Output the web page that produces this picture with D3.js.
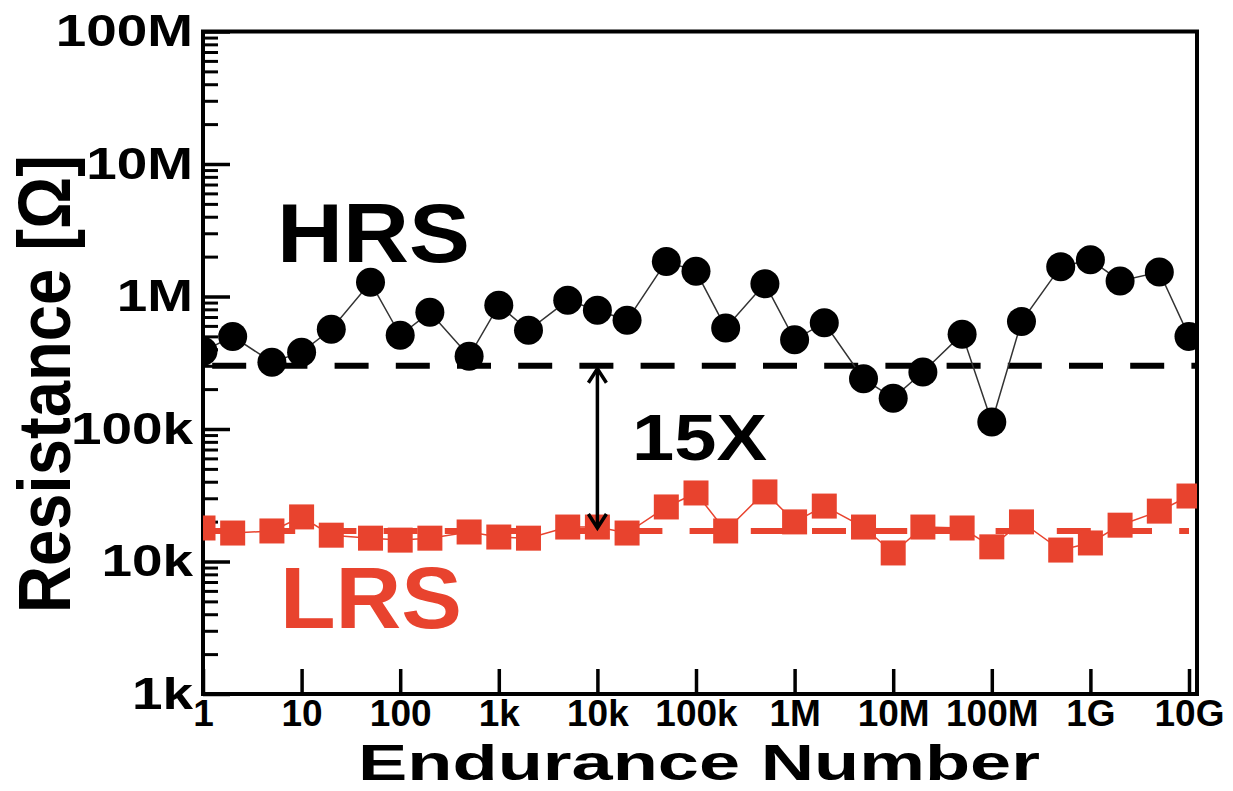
<!DOCTYPE html>
<html>
<head>
<meta charset="utf-8">
<script src="https://cdn.jsdelivr.net/npm/d3@7"></script>
<style>
  body { margin: 0; background: #fff; }
  text { font-family: "Liberation Sans", Arial, sans-serif; font-weight: bold; }
</style>
</head>
<body>
<div id="chart"></div>
<script>
var svgWidth = 1233;
var svgHeight = 791;

// Cycle counts (x) and resistances in ohms
var cycles = [1, 2, 5, 10, 20, 50, 100, 200, 500, 1e3, 2e3, 5e3, 1e4, 2e4, 5e4, 1e5, 2e5, 5e5,
    1e6, 2e6, 5e6, 1e7, 2e7, 5e7, 1e8, 2e8, 5e8, 1e9, 2e9, 5e9, 1e10];
var hrs = [386e3, 500e3, 319e3, 380e3, 566e3, 1.28e6, 510e3, 760e3, 354e3, 860e3, 556e3, 935e3,
    787e3, 661e3, 1.84e6, 1.55e6, 579e3, 1.25e6, 471e3, 634e3, 239e3, 171e3, 269e3, 520e3,
    113e3, 647e3, 1.68e6, 1.89e6, 1.31e6, 1.53e6, 500e3];
var lrs = [17.9e3, 16.4e3, 17e3, 21.7e3, 15.8e3, 15e3, 14.5e3, 15e3, 16.7e3, 15.3e3, 15e3, 18.2e3,
    18.2e3, 16.4e3, 25.8e3, 32.9e3, 17e3, 33.5e3, 19.9e3, 26.2e3, 18.2e3, 11.6e3, 18.2e3, 17.9e3,
    12.9e3, 19.9e3, 12.2e3, 13.8e3, 18.8e3, 24e3, 31.2e3];

// reference levels
var hrsLevel = 300e3;
var lrsLevel = 17e3;

var xTickValues = [1, 10, 100, 1e3, 1e4, 1e5, 1e6, 1e7, 1e8, 1e9, 1e10];
var xTickLabels = ["1", "10", "100", "1k", "10k", "100k", "1M", "10M", "100M", "1G", "10G"];
var yTickValues = [1e3, 1e4, 1e5, 1e6, 1e7, 1e8];
var yTickLabels = ["1k", "10k", "100k", "1M", "10M", "100M"];

var red = "#e8432e";

var svg = d3.select("#chart")
    .append("svg")
    .attr("width", svgWidth)
    .attr("height", svgHeight);

var plot = { left: 203, right: 1197, top: 31.5, bottom: 694 };

var xScale = d3.scaleLog()
    .domain([1, 1e10])
    .range([plot.left, 1189]);

var yScale = d3.scaleLog()
    .domain([1e3, 1e8])
    .range([plot.bottom, plot.top]);

// minor ticks 2..9 in each decade
var xMinor = xScale.ticks().filter(d => xTickValues.indexOf(d) < 0);
var yMinor = yScale.ticks().filter(d => yTickValues.indexOf(d) < 0);

svg.append("defs").append("clipPath")
    .attr("id", "clip")
    .append("rect")
    .attr("x", plot.left)
    .attr("y", plot.top)
    .attr("width", plot.right - plot.left)
    .attr("height", plot.bottom - plot.top);

// minor ticks
svg.append("g")
    .attr("transform", `translate(0, ${plot.bottom})`)
    .call(d3.axisBottom(xScale).tickValues(xMinor).tickSize(-12).tickFormat(""))
    .call(g => g.select(".domain").remove())
    .selectAll("line").attr("stroke-width", 3);

svg.append("g")
    .attr("transform", `translate(${plot.left}, 0)`)
    .call(d3.axisLeft(yScale).tickValues(yMinor).tickSize(-15).tickFormat(""))
    .call(g => g.select(".domain").remove())
    .selectAll("line").attr("stroke-width", 3);

// major ticks with labels
var xAxisG = svg.append("g")
    .attr("transform", `translate(0, ${plot.bottom})`)
    .call(d3.axisBottom(xScale)
        .tickValues(xTickValues)
        .tickSize(-25)
        .tickPadding(6)
        .tickFormat((d, i) => xTickLabels[i]));
xAxisG.select(".domain").remove();
xAxisG.selectAll("line").attr("stroke-width", 3.5);
xAxisG.selectAll("text")
    .attr("font-size", 37)
    .attr("fill", "#000");

var yAxisG = svg.append("g")
    .attr("transform", `translate(${plot.left}, 0)`)
    .call(d3.axisLeft(yScale)
        .tickValues(yTickValues)
        .tickSize(-27)
        .tickPadding(10)
        .tickFormat((d, i) => yTickLabels[i]));
yAxisG.select(".domain").remove();
yAxisG.selectAll("line").attr("stroke-width", 3.5);
yAxisG.selectAll("text")
    .attr("font-size", 45)
    .attr("fill", "#000")
    .attr("dy", "0.32em")
    .attr("x", -10 / 1.22)
    .attr("transform", "scale(1.22,1)");

// frame
svg.append("rect")
    .attr("x", plot.left)
    .attr("y", plot.top)
    .attr("width", plot.right - plot.left)
    .attr("height", plot.bottom - plot.top)
    .attr("fill", "none")
    .attr("stroke", "#000")
    .attr("stroke-width", 4);

var chartGroup = svg.append("g").attr("clip-path", "url(#clip)");

// dashed reference lines
chartGroup.append("line")
    .attr("x1", plot.left).attr("x2", plot.right)
    .attr("y1", yScale(hrsLevel)).attr("y2", yScale(hrsLevel))
    .attr("stroke", "#000")
    .attr("stroke-width", 6)
    .attr("stroke-dasharray", "34,27.2")
    .attr("stroke-dashoffset", 52);

chartGroup.append("line")
    .attr("x1", plot.left).attr("x2", xScale(1e10))
    .attr("y1", yScale(lrsLevel)).attr("y2", yScale(lrsLevel))
    .attr("stroke", red)
    .attr("stroke-width", 6)
    .attr("stroke-dasharray", "34,27.2")
    .attr("stroke-dashoffset", 3);

var hrsData = cycles.map((c, i) => ({ c: c, v: hrs[i] }));
var lrsData = cycles.map((c, i) => ({ c: c, v: lrs[i] }));

var line = d3.line()
    .x(d => xScale(d.c))
    .y(d => yScale(d.v));

chartGroup.append("path")
    .datum(hrsData)
    .attr("d", line)
    .attr("fill", "none")
    .attr("stroke", "#333")
    .attr("stroke-width", 1.5);

chartGroup.append("path")
    .datum(lrsData)
    .attr("d", line)
    .attr("fill", "none")
    .attr("stroke", red)
    .attr("stroke-width", 1.5);

chartGroup.selectAll("circle")
    .data(hrsData)
    .enter()
    .append("circle")
    .attr("cx", d => xScale(d.c))
    .attr("cy", d => yScale(d.v))
    .attr("r", 14.5)
    .attr("fill", "#000");

var sq = 25;
chartGroup.selectAll("rect.lrs")
    .data(lrsData)
    .enter()
    .append("rect")
    .attr("class", "lrs")
    .attr("x", d => xScale(d.c) - sq / 2)
    .attr("y", d => yScale(d.v) - sq / 2)
    .attr("width", sq)
    .attr("height", sq)
    .attr("fill", red);

// 15X arrow between the two levels
var ax = xScale(1e4);
var aTop = yScale(hrsLevel) + 3;
var aBot = yScale(lrsLevel) - 3;
svg.append("line")
    .attr("x1", ax).attr("x2", ax)
    .attr("y1", aTop).attr("y2", aBot)
    .attr("stroke", "#000")
    .attr("stroke-width", 3.5);
svg.append("path")
    .attr("d", `M${ax - 9},${aTop + 14}L${ax},${aTop}L${ax + 9},${aTop + 14}` +
        `M${ax - 9},${aBot - 14}L${ax},${aBot}L${ax + 9},${aBot - 14}`)
    .attr("fill", "none")
    .attr("stroke", "#000")
    .attr("stroke-width", 3.5);

svg.append("text")
    .attr("x", 632)
    .attr("y", 460)
    .attr("font-size", 65)
    .attr("textLength", 135)
    .attr("lengthAdjust", "spacingAndGlyphs")
    .text("15X");

svg.append("text")
    .attr("x", 277)
    .attr("y", 262)
    .attr("font-size", 84)
    .attr("textLength", 193)
    .attr("lengthAdjust", "spacingAndGlyphs")
    .text("HRS");

svg.append("text")
    .attr("x", 280)
    .attr("y", 628)
    .attr("font-size", 88)
    .attr("fill", red)
    .attr("textLength", 182)
    .attr("lengthAdjust", "spacingAndGlyphs")
    .text("LRS");

// axis titles
svg.append("text")
    .attr("x", 358)
    .attr("y", 780)
    .attr("font-size", 50)
    .attr("textLength", 682)
    .attr("lengthAdjust", "spacingAndGlyphs")
    .text("Endurance Number");

svg.append("text")
    .attr("transform", "translate(70, 384) rotate(-90) scale(1, 1.15)")
    .attr("text-anchor", "middle")
    .attr("font-size", 64)
    .attr("textLength", 458)
    .attr("lengthAdjust", "spacingAndGlyphs")
    .text("Resistance [Ω]");
</script>
</body>
</html>
